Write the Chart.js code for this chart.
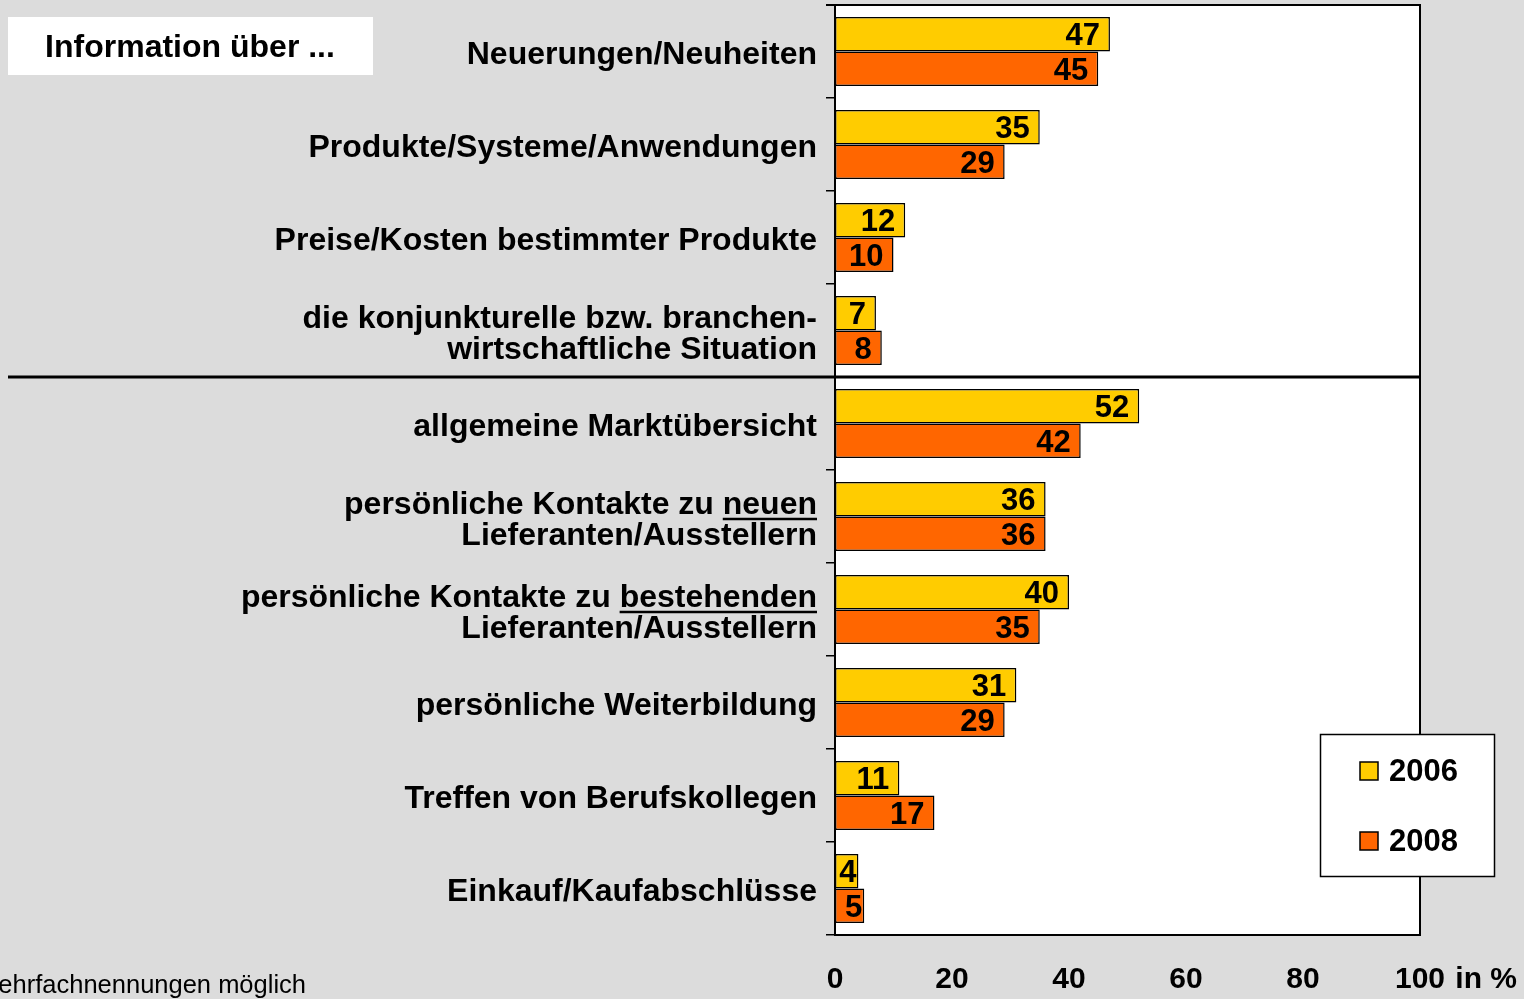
<!DOCTYPE html>
<html>
<head>
<meta charset="utf-8">
<script src="https://cdn.jsdelivr.net/npm/chart.js@4.4.1/dist/chart.umd.min.js"></script>
<style>
  html, body { margin: 0; padding: 0; background: #dcdcdc; }
  #wrap { width: 1524px; height: 999px; }
</style>
</head>
<body>
<div id="wrap"><canvas id="chart_info" width="1524" height="999"></canvas></div>
<script>
// Kategorien (mehrzeilig als Array)
var categories = [
  ["Neuerungen/Neuheiten"],
  ["Produkte/Systeme/Anwendungen"],
  ["Preise/Kosten bestimmter Produkte"],
  ["die konjunkturelle bzw. branchen-", "wirtschaftliche Situation"],
  ["allgemeine Marktübersicht"],
  ["persönliche Kontakte zu neuen", "Lieferanten/Ausstellern"],
  ["persönliche Kontakte zu bestehenden", "Lieferanten/Ausstellern"],
  ["persönliche Weiterbildung"],
  ["Treffen von Berufskollegen"],
  ["Einkauf/Kaufabschlüsse"]
];
// unterstrichene Wörter (Index -> Wort am Ende der ersten Zeile)
var underlined = { 5: "neuen", 6: "bestehenden" };

var values2006 = [47, 35, 12, 7, 52, 36, 40, 31, 11, 4];
var values2008 = [45, 29, 10, 8, 42, 36, 35, 29, 17, 5];
var seriesLabels = ["2006", "2008"];
var xTicks = [0, 20, 40, 60, 80, 100];

var FONT = "'Liberation Sans', Arial, sans-serif";
var LABEL_SHIFT = 4;

var extras = {
  id: "extras",
  beforeDraw: function (chart) {
    var ctx = chart.ctx, a = chart.chartArea;
    ctx.save();
    ctx.fillStyle = "#dcdcdc";
    ctx.fillRect(0, 0, chart.width, chart.height);
    ctx.fillStyle = "#ffffff";
    ctx.fillRect(a.left, a.top, a.right - a.left, a.bottom - a.top);
    ctx.restore();
  },
  afterDraw: function (chart) {
    var ctx = chart.ctx, a = chart.chartArea;
    var xs = chart.scales.x, ys = chart.scales.y;
    ctx.save();

    // Rahmen oben/rechts
    ctx.strokeStyle = "#000";
    ctx.lineWidth = 2;
    ctx.beginPath();
    ctx.moveTo(a.left - 9, a.top);
    ctx.lineTo(a.right, a.top);
    ctx.lineTo(a.right, a.bottom);
    ctx.stroke();

    // Trennlinie zwischen Gruppe 1 und 2
    var yDiv = (ys.getPixelForValue(3) + ys.getPixelForValue(4)) / 2;
    ctx.lineWidth = 3;
    ctx.beginPath();
    ctx.moveTo(8, yDiv);
    ctx.lineTo(a.right, yDiv);
    ctx.stroke();

    // Werte in den Balken
    ctx.fillStyle = "#000";
    ctx.font = "bold 31px " + FONT;
    ctx.textAlign = "right";
    ctx.textBaseline = "middle";
    chart.data.datasets.forEach(function (ds, di) {
      chart.getDatasetMeta(di).data.forEach(function (bar, i) {
        var txt = String(ds.data[i]);
        var w = ctx.measureText(txt).width;
        var xr = bar.x - 10;
        if (xr - w < a.left + 8) xr = bar.x - 2;
        ctx.fillText(txt, xr, bar.y + 2.5);
      });
    });

    // Unterstreichungen
    ctx.font = "bold 32px " + FONT;
    var lh = 31;
    var right = a.left - 18;
    Object.keys(underlined).forEach(function (k) {
      var idx = +k, word = underlined[k];
      var lines = categories[idx];
      var yc = ys.getPixelForValue(idx) + LABEL_SHIFT;
      var yLine = yc - (lines.length - 1) * lh / 2;
      var w = ctx.measureText(word).width;
      ctx.lineWidth = 2.5;
      ctx.beginPath();
      ctx.moveTo(right - w, yLine + 14);
      ctx.lineTo(right, yLine + 14);
      ctx.stroke();
    });

    // "in %"
    ctx.font = "bold 30px " + FONT;
    ctx.textAlign = "left";
    ctx.textBaseline = "middle";
    var x100 = xs.getPixelForValue(100) + ctx.measureText("100").width / 2;
    ctx.fillText(" in %", x100 + 2, 980);

    // Infobox
    ctx.fillStyle = "#fff";
    ctx.fillRect(8, 17, 365, 58);
    ctx.fillStyle = "#000";
    ctx.font = "bold 32px " + FONT;
    ctx.textAlign = "center";
    ctx.fillText("Information über ...", 190, 48);

    // Fußnote
    ctx.font = "25.5px " + FONT;
    ctx.textAlign = "right";
    ctx.textBaseline = "alphabetic";
    ctx.fillText("Mehrfachnennungen möglich", 306, 993);

    // Legende
    ctx.fillStyle = "#fff";
    ctx.fillRect(1320, 734, 174, 142);
    ctx.lineWidth = 1.5;
    ctx.strokeStyle = "#000";
    ctx.strokeRect(1320.5, 734.5, 174, 142);
    ctx.font = "bold 31px " + FONT;
    ctx.textAlign = "left";
    ctx.textBaseline = "middle";
    chart.data.datasets.forEach(function (ds, di) {
      var yy = 771 + di * 70;
      ctx.fillStyle = ds.backgroundColor;
      ctx.fillRect(1360, yy - 9, 18, 18);
      ctx.strokeRect(1360, yy - 9, 18, 18);
      ctx.fillStyle = "#000";
      ctx.fillText(ds.label, 1389, yy + 1);
    });

    ctx.restore();
  }
};

var ctx = document.getElementById("chart_info").getContext("2d");
var myChart = new Chart(ctx, {
  type: "bar",
  data: {
    labels: categories,
    datasets: [{
      label: seriesLabels[0],
      data: values2006,
      backgroundColor: "#ffcc00",
      borderColor: "#000",
      borderWidth: 1.5,
      borderSkipped: false,
      categoryPercentage: 0.742,
      barPercentage: 1
    }, {
      label: seriesLabels[1],
      data: values2008,
      backgroundColor: "#ff6600",
      borderColor: "#000",
      borderWidth: 1.5,
      borderSkipped: false,
      categoryPercentage: 0.742,
      barPercentage: 1
    }]
  },
  options: {
    indexAxis: "y",
    responsive: false,
    animation: false,
    layout: { padding: { top: 5, right: 104, left: 0, bottom: 0 } },
    plugins: {
      legend: { display: false },
      tooltip: { enabled: false }
    },
    scales: {
      x: {
        min: 0,
        max: 100,
        afterBuildTicks: function (scale) {
          scale.ticks = xTicks.map(function (v) { return { value: v }; });
        },
        afterFit: function (scale) {
          scale.height = 64;
          scale.paddingLeft = 0;
          scale.paddingRight = 0;
        },
        grid: { display: false, drawTicks: false },
        border: { display: true, color: "#000", width: 2 },
        ticks: {
          color: "#000",
          font: { family: FONT, size: 30, weight: "bold" },
          padding: 27,
          maxRotation: 0
        }
      },
      y: {
        afterFit: function (scale) {
          scale.width = 835;
          scale.paddingTop = 0;
          scale.paddingBottom = 0;
        },
        grid: {
          display: true,
          drawOnChartArea: false,
          drawTicks: true,
          tickLength: 9,
          color: "#000",
          lineWidth: 1.5,
          offset: true
        },
        border: { display: true, color: "#000", width: 2 },
        ticks: {
          color: "#000",
          padding: 9,
          labelOffset: LABEL_SHIFT,
          font: { family: FONT, size: 32, weight: "bold", lineHeight: 0.97 }
        }
      }
    }
  },
  plugins: [extras]
});
</script>
</body>
</html>
